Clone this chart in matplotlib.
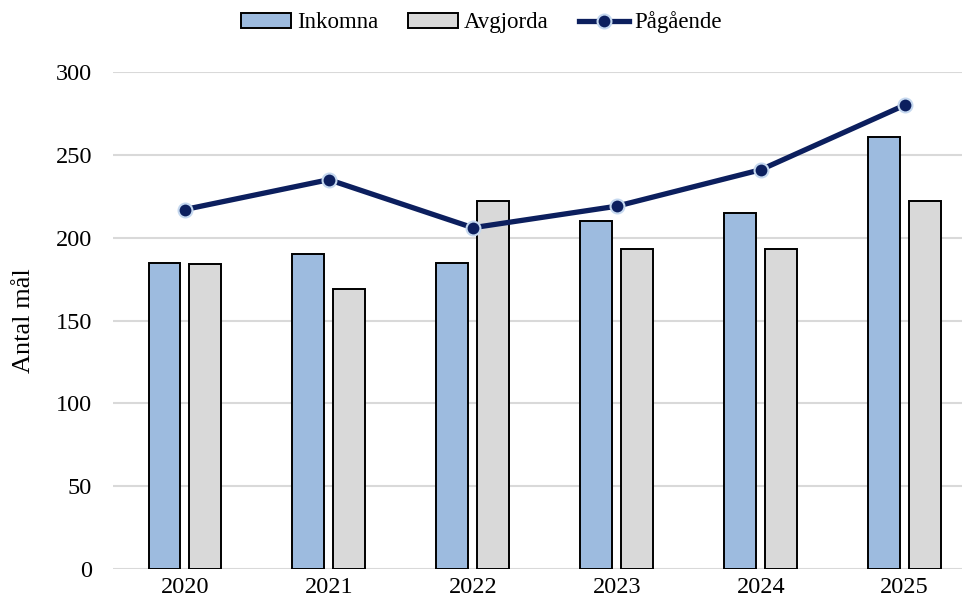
import matplotlib
matplotlib.use("Agg")
import matplotlib.pyplot as plt
import numpy as np
from matplotlib.lines import Line2D
from matplotlib.patches import Patch

years = ["2020", "2021", "2022", "2023", "2024", "2025"]
inkomna = [185, 190, 185, 210, 215, 261]
avgjorda = [184, 169, 222, 193, 193, 222]
pagaende = [217, 235, 206, 219, 241, 280]

plt.rcParams['font.family'] = ['Liberation Serif', 'DejaVu Serif']

fig = plt.figure(figsize=(9.63, 6.08), dpi=100)
ax = fig.add_axes([0.1173, 0.0641, 0.882, 0.8175])

x = np.arange(len(years))
off = 0.142
w = 0.222
ax.bar(x - off, inkomna, w, color='#9dbbdf', edgecolor='black', linewidth=1.4, zorder=3)
ax.bar(x + off, avgjorda, w, color='#d9d9d9', edgecolor='black', linewidth=1.4, zorder=3)
ax.plot(x, pagaende, color='#0c1f5e', linewidth=3.8, marker='o', markersize=10,
        markerfacecolor='#0c1f5e', markeredgecolor='#c5d8ef', markeredgewidth=1.5, zorder=4)

ax.set_ylim(0, 300)
ax.set_yticks(range(0, 301, 50))
ax.set_xlim(-0.5, 5.4)
ax.set_xticks(x)
ax.set_xticklabels(years)
ax.tick_params(axis='both', labelsize=17.5, length=0)
ax.tick_params(axis='y', pad=15)
ax.tick_params(axis='x', pad=6)
ax.grid(axis='y', color='#d9d9d9', linewidth=1.5, zorder=0)
for s in ax.spines.values():
    s.set_visible(False)
ax.set_ylabel("Antal mål", fontsize=19, labelpad=15)

handles = [Patch(facecolor='#9dbbdf', edgecolor='black', linewidth=1.4),
           Patch(facecolor='#d9d9d9', edgecolor='black', linewidth=1.4),
           Line2D([0], [0], color='#0c1f5e', linewidth=3.8, marker='o', markersize=10,
                  markerfacecolor='#0c1f5e', markeredgecolor='#c5d8ef', markeredgewidth=1.5)]
fig.legend(handles, ["Inkomna", "Avgjorda", "Pågående"], loc='upper center',
           bbox_to_anchor=(0.5, 1.015), ncol=3, frameon=False, fontsize=16.5,
           handlelength=2.2, handleheight=0.6, handletextpad=0.25, columnspacing=1.3)

fig.savefig("out.png", dpi=100)
